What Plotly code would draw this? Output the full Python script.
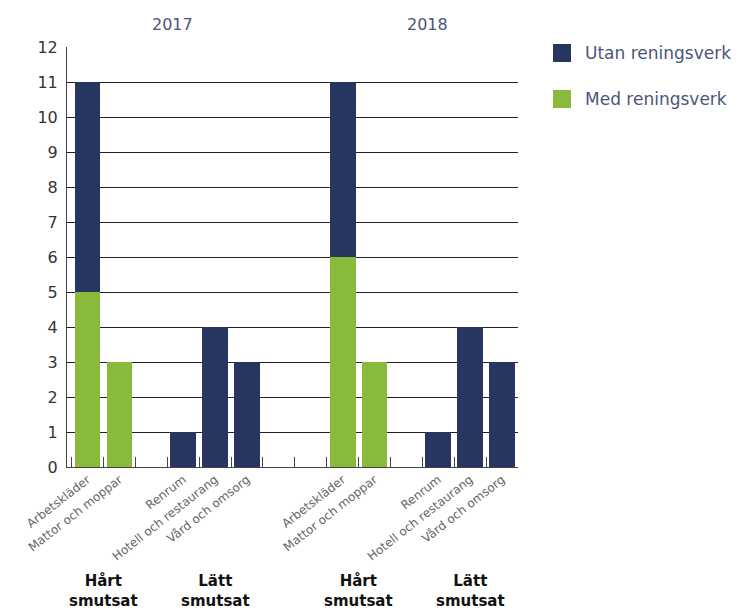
import plotly.graph_objects as go

categories = ["2017 Arbetskläder", "2017 Mattor och moppar", "2017 gap1",
              "2017 Renrum", "2017 Hotell och restaurang", "2017 Vård och omsorg",
              "gap2", "gap3",
              "2018 Arbetskläder", "2018 Mattor och moppar", "2018 gap1",
              "2018 Renrum", "2018 Hotell och restaurang", "2018 Vård och omsorg"]
tick_labels = ["Arbetskläder", "Mattor och moppar", "",
               "Renrum", "Hotell och restaurang", "Vård och omsorg",
               "", "",
               "Arbetskläder", "Mattor och moppar", "",
               "Renrum", "Hotell och restaurang", "Vård och omsorg"]
med_reningsverk = [5, 3, None, None, None, None, None, None, 6, 3, None, None, None, None]
utan_reningsverk = [6, None, None, 1, 4, 3, None, None, 5, None, None, 1, 4, 3]
years = ["2017", "2018"]
group_labels = ["Hårt<br>smutsat", "Lätt<br>smutsat", "Hårt<br>smutsat", "Lätt<br>smutsat"]
group_pos = [0.5, 4, 8.5, 12]
year_pos = [0.233, 0.80]
series_names = ["Utan reningsverk", "Med reningsverk"]

NAVY = "#263661"
GREEN = "#8aba3c"
TXT = "#4a5679"
FONT = "DejaVu Sans, sans-serif"

fig = go.Figure()
fig.add_trace(go.Bar(x=categories, y=med_reningsverk, name=series_names[1],
                     marker=dict(color=GREEN, line=dict(width=0)), showlegend=False))
fig.add_trace(go.Bar(x=categories, y=utan_reningsverk, name=series_names[0],
                     marker=dict(color=NAVY, line=dict(width=0)), showlegend=False))

fig.update_layout(
    barmode="stack", bargap=0.19,
    width=741, height=610,
    margin=dict(l=67, r=223, t=47, b=143),
    paper_bgcolor="white", plot_bgcolor="white",
    font=dict(family=FONT, color="#333"),
)
fig.update_xaxes(
    type="category", categoryorder="array", categoryarray=categories,
    tickvals=categories, ticktext=tick_labels, tickangle=-38,
    tickfont=dict(size=12, color="#666"),
    ticks="inside", tickson="boundaries", ticklen=10, tickcolor="#444", tickwidth=1,
    showline=True, linecolor="#444", linewidth=1, showgrid=False,
)
fig.update_yaxes(
    range=[0, 12], dtick=1, tick0=0,
    tickfont=dict(size=16, color="#333"),
    showgrid=True, gridcolor="#222", gridwidth=1,
    showline=True, linecolor="#444", linewidth=1,
    zeroline=False, ticks="", ticklabelstandoff=5,
)

annotations = []
for yr, xp in zip(years, year_pos):
    annotations.append(dict(text=yr, x=xp, y=1, xref="paper", yref="paper",
                            xanchor="center", yshift=23, showarrow=False, yanchor="middle",
                            font=dict(size=16, color=TXT)))
for lbl, gp in zip(group_labels, group_pos):
    annotations.append(dict(text="<b>" + lbl + "</b>", x=gp, xref="x", y=0, yref="paper",
                            xanchor="center", yshift=-103, showarrow=False, yanchor="top",
                            font=dict(size=15, color="#111")))
# manual legend
leg_colors = [NAVY, GREEN]
shapes = []
for i, (nm, col) in enumerate(zip(series_names, leg_colors)):
    ycen = 1 - (6 + 46 * i) / 420.0
    shapes.append(dict(type="rect", xref="paper", yref="paper",
                       x0=(553 - 67) / 451, x1=(571 - 67) / 451,
                       y0=ycen - 9 / 420, y1=ycen + 9 / 420,
                       fillcolor=col, line=dict(width=0)))
    annotations.append(dict(text=nm, x=(583 - 67) / 451, y=ycen, xref="paper", yref="paper",
                            xanchor="left", yanchor="middle", showarrow=False,
                            font=dict(size=17, color=TXT)))
fig.update_layout(annotations=annotations, shapes=shapes)

fig.write_html("out.html", config={"displayModeBar": False},
               post_script="document.body.style.margin='0px';")
